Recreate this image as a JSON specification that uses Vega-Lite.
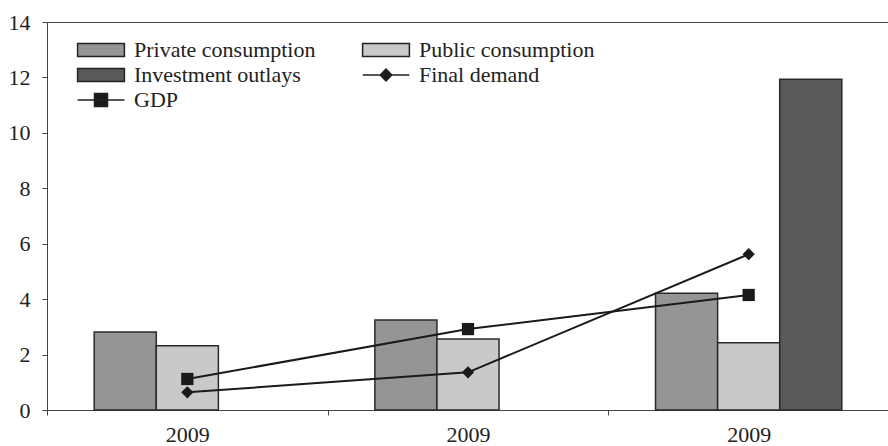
{
  "$schema": "https://vega.github.io/schema/vega-lite/v6.json",
  "width": 842,
  "height": 388,
  "autosize": {"type": "none"},
  "padding": {"left": 47, "top": 22, "right": 0, "bottom": 36},
  "config": {
    "view": {"stroke": "#444", "strokeWidth": 1},
    "font": "Liberation Serif",
    "axis": {"labelFont": "Liberation Serif", "labelFontSize": 22, "labelColor": "#222", "grid": false, "domainColor": "#444", "tickColor": "#444", "tickSize": 5, "title": null}
  },
  "datasets": {
    "main": [
      {"period": "1", "series": "Private consumption", "kind": "bar", "value": 2.81},
      {"period": "1", "series": "Public consumption", "kind": "bar", "value": 2.32},
      {"period": "2", "series": "Private consumption", "kind": "bar", "value": 3.25},
      {"period": "2", "series": "Public consumption", "kind": "bar", "value": 2.56},
      {"period": "3", "series": "Private consumption", "kind": "bar", "value": 4.21},
      {"period": "3", "series": "Public consumption", "kind": "bar", "value": 2.43},
      {"period": "3", "series": "Investment outlays", "kind": "bar", "value": 11.93},
      {"period": "1", "series": "GDP", "kind": "line", "value": 1.12},
      {"period": "2", "series": "GDP", "kind": "line", "value": 2.92},
      {"period": "3", "series": "GDP", "kind": "line", "value": 4.15},
      {"period": "1", "series": "Final demand", "kind": "line", "value": 0.64},
      {"period": "2", "series": "Final demand", "kind": "line", "value": 1.36},
      {"period": "3", "series": "Final demand", "kind": "line", "value": 5.62}
    ]
  },
  "data": {"name": "main"},
  "encoding": {
    "x": {
      "field": "period", "type": "nominal", "sort": ["1", "2", "3"],
      "scale": {"paddingInner": 0, "paddingOuter": 0},
      "axis": {"labelExpr": "datum.extra ? '' : '2009'", "labelAngle": 0, "tickBand": "extent", "labelPadding": 9}
    },
    "y": {
      "field": "value", "type": "quantitative",
      "scale": {"domain": [0, 14], "nice": false},
      "axis": {"values": [0, 2, 4, 6, 8, 10, 12, 14], "labelPadding": 12}
    },
    "color": {
      "field": "series", "type": "nominal",
      "scale": {"domain": ["Private consumption", "Public consumption", "Investment outlays", "Final demand", "GDP"], "range": ["#949597", "#c8c9cb", "#58595b", "#1a1a1a", "#1a1a1a"]},
      "legend": {
        "title": null, "orient": "none", "legendX": 43, "legendY": 17, "columns": 2, "direction": "horizontal",
        "padding": 0, "columnPadding": 43, "rowPadding": 3,
        "labelFont": "Liberation Serif", "labelFontSize": 22, "labelColor": "#222", "labelLimit": 400, "labelOffset": 22,
        "symbolSize": 169, "symbolStrokeColor": "#222222", "symbolStrokeWidth": 1.5,
        "encode": {
          "symbols": {
            "update": {
              "shape": {"signal": "datum.value === 'GDP' ? 'M-3.6,0H3.6M-1,-1H1V1H-1Z' : datum.value === 'Final demand' ? 'M-3.6,0H3.6M-0.9,0L0,-0.9L0.9,0L0,0.9Z' : 'M-3.6,-1H3.6V1H-3.6Z'"},
              "fillOpacity": {"value": 1},
              "stroke": {"value": "#222222"},
              "strokeOpacity": {"value": 1},
              "strokeWidth": {"value": 1.5},
              "size": {"value": 169},
              "opacity": {"value": 1}
            }
          }
        }
      }
    }
  },
  "layer": [
    {
      "transform": [{"filter": "datum.kind === 'bar'"}],
      "mark": {"type": "bar", "stroke": "#2a2a2a", "strokeWidth": 1.5},
      "encoding": {
        "xOffset": {"field": "series", "type": "nominal", "scale": {"domain": ["Private consumption", "Public consumption", "Investment outlays"], "paddingInner": 0, "paddingOuter": 0.76}}
      }
    },
    {
      "transform": [{"filter": "datum.kind === 'line'"}],
      "mark": {"type": "line", "strokeWidth": 2},
      "encoding": {
        "color": {"value": "#1a1a1a"},
        "detail": {"field": "series", "type": "nominal"}
      }
    },
    {
      "transform": [{"filter": "datum.kind === 'line'"}],
      "mark": {"type": "point", "filled": true, "opacity": 1, "size": 150},
      "encoding": {
        "shape": {"field": "series", "type": "nominal", "scale": {"domain": ["GDP", "Final demand"], "range": ["square", "diamond"]}, "legend": null}
      }
    }
  ]
}
